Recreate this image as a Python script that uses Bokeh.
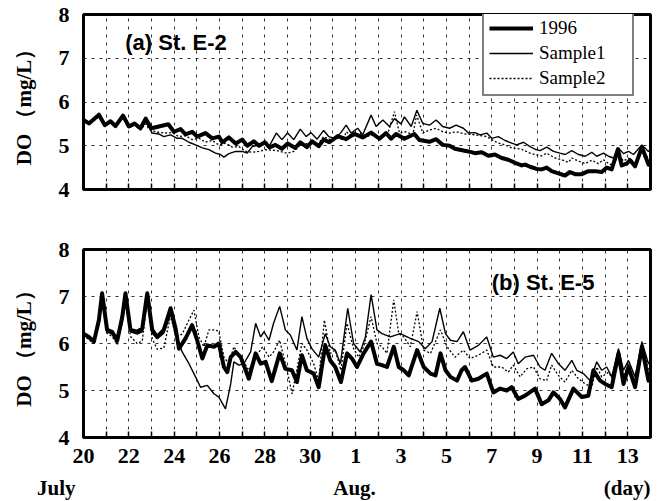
from bokeh.plotting import figure
from bokeh.models import Range1d, FixedTicker, Legend, LegendItem, Label
from bokeh.layouts import column
from bokeh.embed import file_html
from bokeh.resources import INLINE

# ---------------- data (x = days since 20 July) ----------------
tick_days = [0, 2, 4, 6, 8, 10, 12, 14, 16, 18, 20, 22, 24]
tick_labels = ["20", "22", "24", "26", "28", "30", "1", "3", "5", "7", "9", "11", "13"]
minor_days = [1, 3, 5, 7, 9, 11, 13, 15, 17, 19, 21, 23, 25]
y_ticks = [4, 5, 6, 7, 8]
series_names = ["1996", "Sample1", "Sample2"]
month_names = ["July", "Aug.", "(day)"]

# (a) St. E-2
a96_d = [0, 0.24, 0.68, 0.94, 1.19, 1.41, 1.74, 2.0, 2.25, 2.51, 2.74, 2.99, 3.32, 3.74, 3.99, 4.28,
         4.5, 4.79, 5.01, 5.38, 5.68, 5.97, 6.12, 6.41, 6.71, 7.0, 7.22, 7.51, 7.74, 8.0, 8.2, 8.46,
         8.75, 9.0, 9.34, 9.56, 9.85, 10.08, 10.37, 10.59, 10.84, 11.21, 11.58, 11.94, 12.31, 12.68,
         13.05, 13.34, 13.56, 13.78, 14.15, 14.59, 14.81, 15.25, 15.55, 15.84, 16.14, 16.38, 16.75,
         16.97, 17.26, 17.56, 17.85, 18.14, 18.44, 18.73, 19.03, 19.32, 19.47, 19.69, 19.98, 20.2,
         20.42, 20.64, 20.94, 21.23, 21.45, 21.67, 21.97, 22.26, 22.56, 22.85, 23.07, 23.29, 23.56,
         23.73, 23.95, 24.1, 24.32, 24.62, 24.91, 25.0]
a96_v = [5.59, 5.51, 5.71, 5.47, 5.56, 5.45, 5.69, 5.44, 5.51, 5.40, 5.62, 5.40, 5.44, 5.49, 5.32, 5.38,
         5.26, 5.32, 5.21, 5.29, 5.17, 5.21, 5.08, 5.19, 5.05, 5.14, 5.0, 5.1, 5.0, 5.08, 4.96, 5.02,
         4.93, 5.05, 4.95, 5.08, 4.97, 5.1, 4.99, 5.14, 5.08, 5.22, 5.15, 5.27, 5.19, 5.3,
         5.16, 5.29, 5.16, 5.27, 5.16, 5.27, 5.13, 5.09, 5.15, 5.02, 5.0, 4.93, 4.89,
         4.87, 4.83, 4.85, 4.77, 4.80, 4.72, 4.68, 4.61, 4.55, 4.57, 4.52, 4.47, 4.46,
         4.5, 4.42, 4.37, 4.32, 4.4, 4.35, 4.35, 4.42, 4.42, 4.4, 4.5, 4.46, 4.92,
         4.55, 4.59, 4.67, 4.53, 4.97, 4.57, 4.62]

a_s1_d = [0, 0.24, 0.68, 0.94, 1.19, 1.41, 1.74, 2.0, 2.25, 2.51, 2.74, 3.03, 3.32, 3.54, 3.84, 4.13,
          4.35, 4.65, 4.94, 5.24, 5.53, 5.82, 6.04, 6.19, 6.41, 6.71, 7.0, 7.22, 7.44, 7.74, 8.0, 8.2,
          8.5, 8.75, 9.0, 9.27, 9.56, 9.82, 10.03, 10.3, 10.59, 10.81, 11.1, 11.35, 11.58, 11.8, 12.09,
          12.31, 12.68, 12.9, 13.2, 13.49, 13.71, 14.0, 14.15, 14.45, 14.7, 14.96, 15.25, 15.55, 15.84,
          16.14, 16.43, 16.75, 16.97, 17.26, 17.49, 17.78, 18.0, 18.29, 18.59, 18.88, 19.1, 19.4, 19.69,
          19.91, 20.13, 20.43, 20.72, 21.01, 21.24, 21.53, 21.82, 22.12, 22.41, 22.63, 22.93, 23.15,
          23.37, 23.59, 23.81, 24.03, 24.25, 24.62, 24.91, 25.0]
a_s1_v = [5.57, 5.5, 5.68, 5.46, 5.54, 5.43, 5.66, 5.42, 5.48, 5.37, 5.55, 5.29, 5.27, 5.21, 5.25, 5.17,
          5.17, 5.08, 5.02, 4.95, 4.91, 4.83, 4.8, 4.74, 4.82, 4.87, 4.87, 4.83, 4.98, 5.02, 5.04, 5.0,
          5.29, 5.14, 5.29, 5.14, 5.38, 5.21, 5.3, 5.15, 5.35, 5.21, 5.17, 5.3, 5.47, 5.29, 5.4,
          5.25, 5.7, 5.44, 5.59, 5.44, 5.62, 5.5, 5.66, 5.44, 5.81, 5.51, 5.47, 5.59, 5.44,
          5.4, 5.47, 5.4, 5.29, 5.30, 5.25, 5.29, 5.17, 5.21, 5.12, 5.06, 5.02, 5.08, 4.98,
          4.92, 4.89, 4.97, 4.87, 4.83, 4.8, 4.89, 4.8, 4.76, 4.85, 4.76, 4.83, 4.76,
          4.72, 4.95, 4.82, 4.87, 4.8, 5.02, 4.87, 4.92]

a_s2_d = [0, 0.24, 0.68, 0.94, 1.19, 1.41, 1.74, 2.0, 2.25, 2.51, 2.74, 2.88, 3.18, 3.54, 3.91, 4.2,
          4.5, 4.79, 5.09, 5.38, 5.68, 5.97, 6.26, 6.56, 6.85, 7.15, 7.44, 7.74, 8.03, 8.53, 8.97, 9.27,
          9.56, 10.0, 10.3, 10.59, 10.88, 11.18, 11.47, 11.58, 11.87, 12.16, 12.46, 12.75, 13.05, 13.41,
          13.71, 13.93, 14.22, 14.52, 14.69, 14.96, 15.25, 15.55, 15.84, 16.14, 16.43, 16.8, 17.26,
          17.78, 18.0, 18.29, 18.59, 18.88, 19.32, 19.69, 19.91, 20.2, 20.42, 20.79, 21.09, 21.38,
          21.53, 21.82, 22.12, 22.41, 22.7, 22.92, 23.22, 23.44, 23.59, 23.81, 24.03, 24.32, 24.62,
          24.91, 25.0]
a_s2_v = [5.56, 5.49, 5.66, 5.45, 5.53, 5.42, 5.64, 5.41, 5.47, 5.36, 5.5, 5.38, 5.32, 5.29, 5.3, 5.21,
          5.23, 5.14, 5.17, 5.08, 5.12, 5.02, 5.06, 4.97, 4.98, 4.87, 4.85, 4.87, 4.91, 4.89, 4.83, 4.87,
          5.02, 5.06, 5.02, 5.21, 5.14, 5.17, 5.14, 5.32, 5.21, 5.29, 5.21, 5.25, 5.21, 5.26,
          5.78, 5.29, 5.32, 5.25, 5.7, 5.29, 5.36, 5.4, 5.32, 5.29, 5.32, 5.27, 5.25,
          5.21, 5.14, 5.06, 5.02, 4.95, 4.92, 4.83, 4.8, 4.77, 4.83, 4.72, 4.68, 4.62,
          4.72, 4.65, 4.59, 4.67, 4.59, 4.68, 4.57, 4.62, 4.8, 4.65, 4.72, 4.61, 4.87,
          4.72, 4.75]

# (b) St. E-5
b96_d = [0, 0.24, 0.46, 0.68, 0.82, 1.04, 1.26, 1.49, 1.71, 1.85, 2.07, 2.37, 2.59, 2.81, 3.03, 3.25,
         3.54, 3.84, 4.06, 4.21, 4.5, 4.79, 5.01, 5.24, 5.46, 5.75, 5.97, 6.19, 6.34, 6.49, 6.71, 6.93,
         7.15, 7.29, 7.59, 7.81, 8.03, 8.3, 8.65, 8.9, 9.19, 9.41, 9.63, 9.85, 10.15, 10.37, 10.66,
         10.88, 11.1, 11.35, 11.62, 11.84, 12.06, 12.35, 12.68, 12.94, 13.16, 13.38, 13.68, 13.9,
         14.12, 14.34, 14.71, 15.0, 15.3, 15.52, 15.74, 15.96, 16.18, 16.47, 16.67, 16.82, 17.12,
         17.41, 17.78, 18.07, 18.37, 18.66, 18.88, 19.17, 19.47, 19.91, 20.2, 20.5, 20.72, 21.01,
         21.23, 21.6, 21.97, 22.26, 22.48, 22.78, 23.0, 23.29, 23.59, 23.81, 24.03, 24.32, 24.62,
         24.91, 25.0]
b96_v = [6.21, 6.14, 6.04, 6.5, 7.07, 6.29, 6.25, 6.07, 6.57, 7.07, 6.29, 6.25, 6.32, 7.07, 6.29, 6.14,
         6.29, 6.75, 6.32, 5.89, 6.11, 6.39, 6.07, 5.68, 5.96, 5.93, 6.0, 5.5, 5.39, 5.71, 5.82, 5.71,
         5.43, 5.25, 5.79, 5.57, 5.61, 5.2, 5.79, 5.46, 5.43, 5.18, 5.75, 5.43, 5.36, 5.07, 5.96,
         5.64, 5.5, 5.18, 5.79, 5.68, 5.5, 5.79, 6.04, 5.57, 5.54, 5.5, 5.93, 5.5,
         5.43, 5.32, 5.86, 5.5, 5.36, 5.32, 5.79, 5.43, 5.29, 5.21, 5.43, 5.5, 5.21,
         5.25, 5.36, 4.96, 5.04, 5.0, 5.07, 4.82, 4.89, 5.04, 4.71, 4.79, 4.96, 4.82,
         4.64, 5.04, 4.86, 4.89, 5.43, 5.21, 5.14, 5.07, 5.79, 5.14, 5.5, 5.07, 5.93,
         5.21, 5.3]

b_s1_d = [0, 0.24, 0.46, 0.68, 0.82, 1.04, 1.26, 1.49, 1.71, 1.85, 2.07, 2.37, 2.59, 2.81, 3.03, 3.25,
          3.54, 3.84, 4.06, 4.35, 4.65, 4.94, 5.16, 5.46, 5.75, 5.97, 6.26, 6.49, 6.63, 6.85, 7.07, 7.37,
          7.59, 7.81, 7.96, 8.18, 8.38, 8.65, 8.9, 9.12, 9.41, 9.63, 9.85, 10.07, 10.37, 10.66, 10.88,
          11.1, 11.33, 11.65, 11.91, 12.2, 12.43, 12.68, 12.94, 13.16, 13.53, 13.97, 14.41, 14.78,
          15.07, 15.37, 15.71, 15.96, 16.18, 16.47, 16.75, 17.04, 17.41, 17.78, 18.07, 18.37, 18.66,
          18.95, 19.17, 19.47, 19.84, 20.13, 20.35, 20.64, 20.94, 21.23, 21.53, 21.75, 22.04, 22.34,
          22.63, 22.85, 23.07, 23.29, 23.59, 23.81, 24.03, 24.32, 24.62, 24.91, 25.0]
b_s1_v = [6.2, 6.1, 6.02, 6.45, 6.95, 6.25, 6.2, 6.0, 6.5, 6.95, 6.25, 6.2, 6.25, 6.95, 6.22, 6.1,
          6.22, 6.64, 6.2, 5.82, 5.57, 5.29, 5.07, 5.11, 4.93, 4.86, 4.61, 5.14, 5.61, 5.54, 5.57, 5.82,
          6.43, 6.14, 6.25, 6.07, 6.43, 6.79, 6.29, 6.18, 5.86, 6.57, 6.11, 5.89, 5.71, 6.21, 5.93,
          5.86, 5.57, 6.75, 6.0, 5.82, 6.14, 7.04, 6.29, 6.21, 6.14, 6.21, 6.11, 6.04,
          5.89, 6.04, 6.75, 6.21, 6.07, 6.04, 6.25, 5.86, 5.96, 6.14, 5.71, 5.75, 5.68,
          5.82, 5.57, 5.71, 5.75, 5.5, 5.43, 5.79, 5.57, 5.43, 5.64, 5.43, 5.36, 5.21,
          5.61, 5.43, 5.5, 5.29, 5.89, 5.43, 5.64, 5.29, 6.04, 5.57, 5.6]

b_s2_d = [0, 0.24, 0.46, 0.68, 0.82, 1.04, 1.26, 1.49, 1.71, 1.85, 2.07, 2.37, 2.59, 2.81, 3.03, 3.25,
          3.54, 3.84, 4.06, 4.35, 4.65, 4.87, 5.09, 5.31, 5.53, 5.82, 5.97, 6.19, 6.41, 6.63, 6.85, 7.15,
          7.29, 7.59, 7.9, 8.18, 8.38, 8.65, 8.97, 9.2, 9.63, 9.85, 10.15, 10.37, 10.62, 10.88, 11.1,
          11.35, 11.62, 11.91, 12.13, 12.35, 12.68, 12.94, 13.16, 13.38, 13.68, 13.9, 14.12, 14.41,
          14.71, 15.0, 15.3, 15.74, 16.03, 16.38, 16.75, 17.04, 17.41, 17.78, 18.07, 18.44, 18.73,
          18.95, 19.25, 19.54, 19.84, 20.13, 20.42, 20.64, 20.94, 21.23, 21.53, 21.82, 22.12, 22.41,
          22.63, 22.85, 23.15, 23.37, 23.59, 23.81, 24.03, 24.32, 24.62, 24.91, 25.0]
b_s2_v = [6.18, 6.08, 6.0, 6.4, 6.9, 6.22, 6.15, 5.98, 6.45, 6.9, 6.15, 6.0, 6.05, 6.9, 6.1, 5.88,
          5.9, 6.6, 6.15, 6.2, 6.5, 6.71, 6.14, 5.93, 6.29, 6.29, 6.25, 5.71, 5.57, 5.93, 5.75, 5.54,
          5.43, 5.72, 5.93, 5.71, 5.82, 6.07, 5.43, 4.93, 6.0, 5.86, 5.57, 5.21, 6.5, 5.79, 5.86,
          5.43, 6.43, 5.89, 5.71, 5.93, 6.57, 6.0, 5.93, 5.79, 6.93, 6.21, 6.14, 5.93,
          6.68, 5.86, 5.79, 6.29, 5.93, 5.71, 5.86, 5.68, 5.75, 5.86, 5.5, 5.5, 5.39,
          5.54, 5.29, 5.46, 5.5, 5.25, 5.21, 5.54, 5.32, 5.18, 5.43, 5.25, 5.14, 5.07,
          5.5, 5.29, 5.39, 5.21, 5.86, 5.29, 5.57, 5.18, 6.0, 5.43, 5.5]

# ---------------- styling ----------------
SERIF = "Liberation Serif"
SANS = "Liberation Sans"
label_map = {d: t for d, t in zip(tick_days, tick_labels)}


def make_panel(height, top, bottom, show_labels):
    p = figure(width=664, height=height, output_backend="svg", toolbar_location=None,
               x_range=Range1d(0, 25), y_range=Range1d(4, 8),
               min_border_left=83, min_border_right=14, min_border_top=top, min_border_bottom=bottom)
    p.outline_line_color = "black"
    p.outline_line_width = 3
    p.outline_line_alpha = 1
    p.background_fill_color = "white"
    p.border_fill_color = "white"

    xa = p.xaxis[0]
    xa.ticker = FixedTicker(ticks=tick_days, minor_ticks=minor_days)
    xa.major_label_overrides = label_map
    xa.axis_line_color = None
    xa.major_tick_in = 6
    xa.major_tick_out = 0
    xa.major_tick_line_width = 1.5
    xa.minor_tick_in = 6
    xa.minor_tick_out = 0
    xa.minor_tick_line_width = 1.5
    xa.minor_tick_line_color = "black"
    xa.major_label_standoff = 11
    xa.major_label_text_font = SERIF
    xa.major_label_text_font_style = "bold"
    xa.major_label_text_font_size = "22px"
    xa.major_label_text_color = "black" if show_labels else None

    ya = p.yaxis[0]
    ya.ticker = FixedTicker(ticks=y_ticks)
    ya.axis_line_color = None
    ya.major_tick_line_color = None
    ya.minor_tick_line_color = None
    ya.major_tick_in = 0
    ya.major_tick_out = 0
    ya.major_label_standoff = 14
    ya.major_label_text_font = SERIF
    ya.major_label_text_font_style = "bold"
    ya.major_label_text_font_size = "22px"
    ya.major_label_text_color = "black"
    ya.axis_label = "DO （mg/L）"
    ya.axis_label_text_font = SERIF
    ya.axis_label_text_font_style = "bold"
    ya.axis_label_text_font_size = "21px"
    ya.axis_label_text_color = "black"
    ya.axis_label_standoff = 20

    for g in (p.xgrid[0], p.ygrid[0]):
        g.grid_line_color = "black"
        g.grid_line_dash = "3 5"
        g.grid_line_width = 1
        g.grid_line_alpha = 0.8
    p.xgrid[0].minor_grid_line_color = "black"
    p.xgrid[0].minor_grid_line_dash = "3 5"
    p.xgrid[0].minor_grid_line_width = 1
    p.xgrid[0].minor_grid_line_alpha = 0.8
    return p


def add_series(p, d96, v96, d1, v1, d2, v2):
    r2 = p.line(d2, v2, line_color="black", line_width=1.3, line_dash="2 2")
    r1 = p.line(d1, v1, line_color="black", line_width=1.4)
    r0 = p.line(d96, v96, line_color="black", line_width=4, line_join="round")
    return r0, r1, r2


p1 = make_panel(228, 14, 39, False)
r0, r1, r2 = add_series(p1, a96_d, a96_v, a_s1_d, a_s1_v, a_s2_d, a_s2_v)
legend = Legend(items=[LegendItem(label=series_names[0], renderers=[r0]),
                       LegendItem(label=series_names[1], renderers=[r1]),
                       LegendItem(label=series_names[2], renderers=[r2])],
                location=(399, 93), orientation="vertical",
                label_text_font=SERIF, label_text_font_size="19px", label_text_color="black",
                glyph_width=44, glyph_height=22, label_height=22, label_width=88,
                spacing=3, padding=5, label_standoff=6, margin=0,
                border_line_color="black", border_line_width=2,
                background_fill_color="white", background_fill_alpha=1)
p1.add_layout(legend)
p1.add_layout(Label(x=1.84, y=7.35, text="(a) St. E-2", text_font=SANS, text_font_style="bold",
                    text_font_size="22px", text_baseline="middle", text_align="left", text_color="black"))

p2 = make_panel(246, 21, 37, True)
add_series(p2, b96_d, b96_v, b_s1_d, b_s1_v, b_s2_d, b_s2_v)
p2.add_layout(Label(x=18.0, y=7.29, text="(b) St. E-5", text_font=SANS, text_font_style="bold",
                    text_font_size="22px", text_baseline="middle", text_align="left", text_color="black"))

# strip under the lower panel for the month / unit labels (same day scale)
p3 = figure(width=664, height=26, output_backend="svg", toolbar_location=None,
            x_range=Range1d(0, 25), y_range=Range1d(0, 1), x_axis_location=None,
            min_border_left=83, min_border_right=14, min_border_top=0, min_border_bottom=0)
p3.outline_line_color = None
p3.xgrid.visible = False
p3.ygrid.visible = False
ya3 = p3.yaxis[0]
ya3.ticker = FixedTicker(ticks=[])
ya3.axis_line_color = None
ya3.major_tick_line_color = None
ya3.minor_tick_line_color = None
ya3.major_tick_out = 0
ya3.major_tick_in = 0
ya3.major_label_text_color = None
ya3.axis_label = month_names[0]
ya3.axis_label_orientation = "horizontal"
ya3.axis_label_standoff = 8
ya3.axis_label_text_font = SERIF
ya3.axis_label_text_font_style = "bold"
ya3.axis_label_text_font_size = "21px"
ya3.axis_label_text_color = "black"
for txt, xx, al in zip(month_names[1:], [11.95, 25.0], ["center", "right"]):
    p3.add_layout(Label(x=xx, y=0.5, text=txt, text_font=SERIF, text_font_style="bold",
                        text_font_size="21px", text_baseline="middle", text_align=al, text_color="black"))

layout = column(p1, p2, p3, spacing=0)
open("out.html", "w").write(file_html(layout, INLINE))
